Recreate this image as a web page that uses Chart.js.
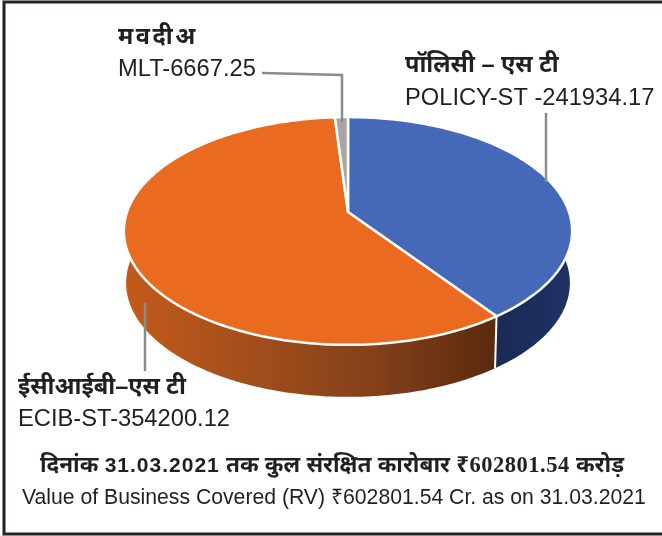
<!DOCTYPE html>
<html>
<head>
<meta charset="utf-8">
<script src="https://cdn.jsdelivr.net/npm/chart.js@4"></script>
<style>
    html, body { margin: 0; padding: 0; background: #fff; }
    canvas { display: block; }
</style>
</head>
<body>
<canvas id="graph" width="662" height="536"></canvas>
<script>
var categories = ['POLICY-ST', 'ECIB-ST', 'MLT'];
var hindi_names = ['पॉलिसी – एस टी', 'ईसीआईबी–एस टी', 'म व दी अ'];
var values = [241934.17, 354200.12, 6667.25];
var top_colors = ['#4668b8', '#ea6a20', '#a6a6a6'];
var side_stops = [
    ['#1a2a55', '#1f3265'],
    ['#c45a1b', '#a34f1b', '#84401a', '#5a2a0f'],
    ['#7c7c7c', '#7c7c7c']
];

/* fake 3d: circle goes through a perspective squash, tilt and pull come from the picture */
var tilt = 0.501;
var pull = -0.1667;
var depth = 52;
var sans = '"Liberation Sans", "Noto Sans", sans-serif';
var serif = '"Liberation Serif", "Noto Sans", serif';

function project(el, angle, drop)
{
    var u = Math.cos(angle);
    var v = Math.sin(angle);
    var w = 1 + pull * v;
    var shrink = drop ? 0.99 : 1;
    return {
        x: el.x + el.outerRadius * shrink * u / w,
        y: el.y + el.outerRadius * tilt * v / w + (drop ? depth : 0)
    };
}

function arc_points(el, drop)
{
    var pts = [];
    var steps = Math.max(6, Math.ceil((el.endAngle - el.startAngle) * 60));
    for (var i = 0; i <= steps; i++) {
        pts.push(project(el, el.startAngle + (el.endAngle - el.startAngle) * i / steps, drop));
    }
    return pts;
}

function draw_text(ctx, runs, x, y)
{
    ctx.textAlign = 'left';
    ctx.textBaseline = 'alphabetic';
    ctx.fillStyle = '#231f20';
    runs.forEach(function (run) {
        ctx.font = run[1];
        ctx.letterSpacing = run[2] || '0px';
        ctx.wordSpacing = run[3] || '0px';
        ctx.fillText(run[0], x, y);
        x += ctx.measureText(run[0]).width;
    });
    ctx.letterSpacing = '0px';
    ctx.wordSpacing = '0px';
}

function draw_leader(ctx, pts)
{
    ctx.beginPath();
    pts.forEach(function (p, i) {
        if (i === 0) ctx.moveTo(p[0], p[1]); else ctx.lineTo(p[0], p[1]);
    });
    ctx.strokeStyle = '#8a8c8e';
    ctx.lineWidth = 2.5;
    ctx.stroke();
}

var pie3d = {
    id: 'pie3d',
    beforeDatasetDraw: function (chart, args) {
        var ctx = chart.ctx;
        var arcs = args.meta.data;
        ctx.save();
        ctx.lineJoin = 'round';

        /* side walls first, top face hides the far part */
        arcs.forEach(function (el, i) {
            var upper = arc_points(el, false);
            var lower = arc_points(el, true).reverse();
            var left = el.x - el.outerRadius * 1.02;
            var right = el.x + el.outerRadius * 1.02;
            if (i === 0) left = project(el, el.endAngle, false).x;
            if (i === 1) right = project(el, el.startAngle, false).x;
            var grad = ctx.createLinearGradient(left, 0, right, 0);
            side_stops[i].forEach(function (c, k) {
                grad.addColorStop(k / (side_stops[i].length - 1), c);
            });
            ctx.beginPath();
            upper.concat(lower).forEach(function (p, k) {
                if (k === 0) ctx.moveTo(p.x, p.y); else ctx.lineTo(p.x, p.y);
            });
            ctx.closePath();
            ctx.fillStyle = grad;
            ctx.fill();
        });

        /* white seam between orange and blue wall */
        var seam = project(arcs[0], arcs[0].endAngle, false);
        var seam_low = project(arcs[0], arcs[0].endAngle, true);
        ctx.beginPath();
        ctx.moveTo(seam.x, seam.y);
        ctx.lineTo(seam_low.x, seam_low.y);
        ctx.strokeStyle = '#ffffff';
        ctx.lineWidth = 2;
        ctx.stroke();

        arcs.forEach(function (el, i) {
            ctx.beginPath();
            ctx.moveTo(el.x, el.y);
            arc_points(el, false).forEach(function (p) { ctx.lineTo(p.x, p.y); });
            ctx.closePath();
            ctx.fillStyle = top_colors[i];
            ctx.fill();
            ctx.strokeStyle = '#ffffff';
            ctx.lineWidth = 2.5;
            ctx.stroke();
        });
        ctx.restore();
        return false;
    },
    afterDraw: function (chart) {
        var ctx = chart.ctx;
        ctx.save();

        /* page frame */
        ctx.strokeStyle = '#231f20';
        ctx.lineWidth = 3;
        ctx.beginPath();
        ctx.moveTo(662, 534);
        ctx.lineTo(4, 534);
        ctx.lineTo(4, 2);
        ctx.lineTo(662, 2);
        ctx.stroke();

        draw_leader(ctx, [[262, 73], [342, 75], [342, 122]]);
        draw_leader(ctx, [[546, 113], [546, 182]]);
        draw_leader(ctx, [[145, 303], [145, 371]]);

        var label_font = '23.7px ' + sans;
        var bold_font = 'bold 23.5px ' + sans;
        draw_text(ctx, [[hindi_names[2], bold_font, '0px', '-4px']], 118, 44);
        draw_text(ctx, [[categories[2] + '-' + values[2], label_font]], 118, 76);
        draw_text(ctx, [[hindi_names[0], bold_font]], 405, 72);
        draw_text(ctx, [[categories[0] + ' -' + values[0], label_font]], 405, 105);
        draw_text(ctx, [[hindi_names[1], bold_font]], 18, 394);
        draw_text(ctx, [[categories[1] + '-' + values[1].toFixed(2), label_font]], 18, 426);

        var head = 'bold 22.5px ' + sans;
        var head_num = 'bold 22.5px ' + serif;
        draw_text(ctx, [
            ['दिनांक ', head],
            ['31.03.2021', 'bold 21px ' + sans, '1px'],
            [' तक कुल संरक्षित कारोबार ', head],
            ['₹602801.54', head_num, '0.5px'],
            [' करोड़', head]
        ], 40, 472);
        draw_text(ctx, [['Value of Business Covered (RV) ₹602801.54 Cr. as on 31.03.2021', '21.2px ' + sans]], 22, 504);
        ctx.restore();
    }
};

new Chart(document.getElementById('graph'), {
    type: 'pie',
    data: {
        labels: categories,
        datasets: [{ data: values, backgroundColor: top_colors, borderColor: '#ffffff' }]
    },
    options: {
        responsive: false,
        animation: false,
        devicePixelRatio: 1,
        radius: 221,
        layout: { padding: { left: 34, top: 0, right: 0, bottom: 112 } },
        plugins: { legend: { display: false }, tooltip: { enabled: false } }
    },
    plugins: [pie3d]
});
</script>
</body>
</html>
